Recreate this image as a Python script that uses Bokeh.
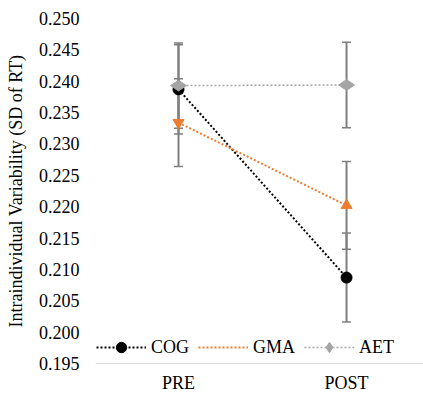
from bokeh.plotting import figure
from bokeh.models import ColumnDataSource, Whisker, TeeHead, FixedTicker, NumeralTickFormatter, Legend, LegendItem, Range1d
from bokeh.embed import file_html
from bokeh.resources import INLINE
import math

phases = ["PRE", "POST"]
cog = [0.2387, 0.2087]
cog_err = [0.0071, 0.0071]
gma = [0.2334, 0.2202]
gma_err = [0.0070, 0.0070]
aet = [0.2393, 0.2394]
aet_err = [0.0068, 0.0068]
y_ticks = [0.195, 0.200, 0.205, 0.210, 0.215, 0.220, 0.225, 0.230, 0.235, 0.240, 0.245, 0.250]

FONT = "Liberation Serif"
FS = "18px"

xs = list(range(len(phases)))

p = figure(width=423, height=395, output_backend="svg", toolbar_location=None,
           x_range=Range1d(-0.494, 1.458), y_range=Range1d(0.195, 0.250),
           min_border_left=95, min_border_right=0, min_border_top=18, min_border_bottom=30)
p.outline_line_color = None
p.grid.visible = False
p.background_fill_color = "white"
p.border_fill_color = "white"

# axes
p.xaxis.ticker = FixedTicker(ticks=xs)
p.xaxis.major_label_overrides = {i: s for i, s in enumerate(phases)}
p.xaxis.axis_line_color = "#D9D9D9"
p.xaxis.axis_line_width = 1
p.xaxis.major_tick_line_color = None
p.xaxis.minor_tick_line_color = None
p.xaxis.major_tick_out = 0
p.xaxis.major_tick_in = 0
p.xaxis.major_label_standoff = 9
p.xaxis.major_label_text_font = FONT
p.xaxis.major_label_text_font_size = FS
p.xaxis.major_label_text_color = "black"

p.yaxis.ticker = FixedTicker(ticks=y_ticks)
p.yaxis.formatter = NumeralTickFormatter(format="0.000")
p.yaxis.axis_line_color = None
p.yaxis.major_tick_line_color = None
p.yaxis.minor_tick_line_color = None
p.yaxis.major_tick_out = 0
p.yaxis.major_tick_in = 0
p.yaxis.major_label_standoff = 16
p.yaxis.major_label_text_font = FONT
p.yaxis.major_label_text_font_size = FS
p.yaxis.major_label_text_color = "black"
p.yaxis.axis_label = "Intraindividual Variability (SD of RT)"
p.yaxis.axis_label_text_font = FONT
p.yaxis.axis_label_text_font_size = FS
p.yaxis.axis_label_text_font_style = "normal"
p.yaxis.axis_label_text_color = "black"
p.yaxis.axis_label_standoff = 10

EB = "#7F7F7F"
def add_err(vals, errs):
    src = ColumnDataSource(dict(x=xs, lo=[v - e for v, e in zip(vals, errs)], hi=[v + e for v, e in zip(vals, errs)]))
    w = Whisker(base="x", lower="lo", upper="hi", source=src, line_color=EB, line_width=2,
                upper_head=TeeHead(size=9, line_color=EB, line_width=1.5),
                lower_head=TeeHead(size=9, line_color=EB, line_width=1.5), level="underlay")
    p.add_layout(w)

add_err(cog, cog_err)
add_err(gma, gma_err)
add_err(aet, aet_err)

BLACK = "#000000"
ORANGE = "#ED7D31"
GRAY = "#A5A5A5"

cog_l = p.line(xs, cog, line_color=BLACK, line_width=2, line_dash="2 2")
cog_m = p.scatter(xs, cog, marker="circle", size=11, fill_color=BLACK, line_color=BLACK)

gsrc = ColumnDataSource(dict(x=xs, y=gma, m=["inverted_triangle", "triangle"]))
gma_l = p.line(xs, gma, line_color=ORANGE, line_width=2, line_dash="2 2")
gma_m = p.scatter("x", "y", source=gsrc, marker="m", size=11, fill_color=ORANGE, line_color=ORANGE)

aet_l = p.line(xs, aet, line_color=GRAY, line_width=1.5, line_dash="2 2")
aet_m = p.scatter(xs, aet, marker="diamond", angle=math.pi / 2, size=16, fill_color=GRAY, line_color=GRAY)

legend = Legend(items=[
    LegendItem(label="COG", renderers=[cog_l, cog_m]),
    LegendItem(label="GMA", renderers=[gma_l]),
    LegendItem(label="AET", renderers=[aet_l, aet_m]),
], orientation="horizontal", location=(1, 3), padding=0, margin=0, spacing=9,
    glyph_width=50, glyph_height=26, label_height=26, label_standoff=5,
    border_line_color=None, background_fill_alpha=0,
    label_text_font=FONT, label_text_font_size=FS, label_text_color="black")
p.add_layout(legend)

open("out.html", "w").write(file_html(p, INLINE))
